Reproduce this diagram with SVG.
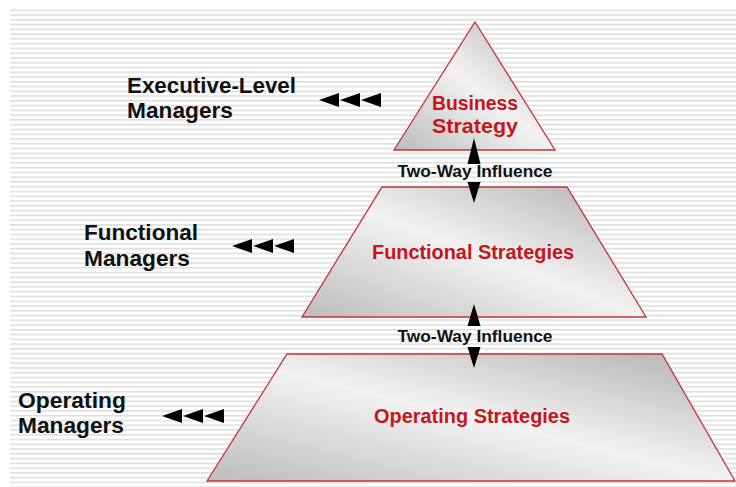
<svg xmlns="http://www.w3.org/2000/svg" width="736" height="487" viewBox="0 0 736 487">
<style>
.lvl{fill:url(#g);stroke:#c8303a;stroke-width:1.3}
.red{font-family:"Liberation Sans",Arial,sans-serif;font-weight:bold;font-size:20px;fill:#c4161c;text-anchor:middle}
.mgr{font-family:"Liberation Sans",Arial,sans-serif;font-weight:bold;font-size:22px;fill:#111}
.inf{font-family:"Liberation Sans",Arial,sans-serif;font-weight:bold;font-size:17px;fill:#111;text-anchor:middle}
.ah{fill:#000}
</style>
<defs>
<pattern id="stripes" patternUnits="userSpaceOnUse" x="0" y="9.4" width="736" height="4.77">
<rect x="0" y="0" width="736" height="1.6" fill="#dedede"/>
</pattern>
<linearGradient id="g" x1="1" y1="0" x2="0" y2="1">
<stop offset="0" stop-color="#b0b0b0"/>
<stop offset="0.5" stop-color="#f2f2f2"/>
<stop offset="1" stop-color="#bcbcbc"/>
</linearGradient>
<g id="tri3">
<polygon points="0,0 20,-7 20,7"/>
<polygon points="21,0 41,-7 41,7"/>
<polygon points="42,0 62,-7 62,7"/>
</g>
</defs>
<rect width="736" height="487" fill="#fff"/>
<rect x="10" y="9" width="726" height="478" fill="url(#stripes)"/>

<g id="business">
<polygon class="lvl" points="475,22 555,150 394,150"/>
<text class="red" x="475" y="110" textLength="86" lengthAdjust="spacingAndGlyphs">Business</text>
<text class="red" x="475" y="133" textLength="86" lengthAdjust="spacingAndGlyphs">Strategy</text>
</g>
<g id="functional">
<polygon class="lvl" points="382,187 567,187 646,317 302,317"/>
<text class="red" x="473" y="259" textLength="202" lengthAdjust="spacingAndGlyphs">Functional Strategies</text>
</g>
<g id="operating">
<polygon class="lvl" points="287,354 662,354 735,481 207,481"/>
<text class="red" x="472" y="423" textLength="196" lengthAdjust="spacingAndGlyphs">Operating Strategies</text>
</g>

<g id="exec-label">
<text class="mgr" x="127" y="93" textLength="169" lengthAdjust="spacingAndGlyphs">Executive-Level</text>
<text class="mgr" x="127" y="118" textLength="106" lengthAdjust="spacingAndGlyphs">Managers</text>
<use href="#tri3" x="319" y="100"/>
</g>
<g id="func-label">
<text class="mgr" x="84" y="240" textLength="114" lengthAdjust="spacingAndGlyphs">Functional</text>
<text class="mgr" x="84" y="266" textLength="106" lengthAdjust="spacingAndGlyphs">Managers</text>
<use href="#tri3" x="232" y="246"/>
</g>
<g id="oper-label">
<text class="mgr" x="18" y="408" textLength="108" lengthAdjust="spacingAndGlyphs">Operating</text>
<text class="mgr" x="18" y="433" textLength="106" lengthAdjust="spacingAndGlyphs">Managers</text>
<use href="#tri3" x="162" y="416"/>
</g>

<g id="connectors">
<polygon class="ah" points="474,138 480.5,164 467.5,164"/>
<polygon class="ah" points="467.5,182 480.5,182 474,203"/>
<text class="inf" x="475" y="177" textLength="155" lengthAdjust="spacingAndGlyphs">Two-Way Influence</text>
<polygon class="ah" points="474,304 480.5,326 467.5,326"/>
<polygon class="ah" points="467.5,347 480.5,347 474,368"/>
<text class="inf" x="475" y="342" textLength="155" lengthAdjust="spacingAndGlyphs">Two-Way Influence</text>
</g>
</svg>
